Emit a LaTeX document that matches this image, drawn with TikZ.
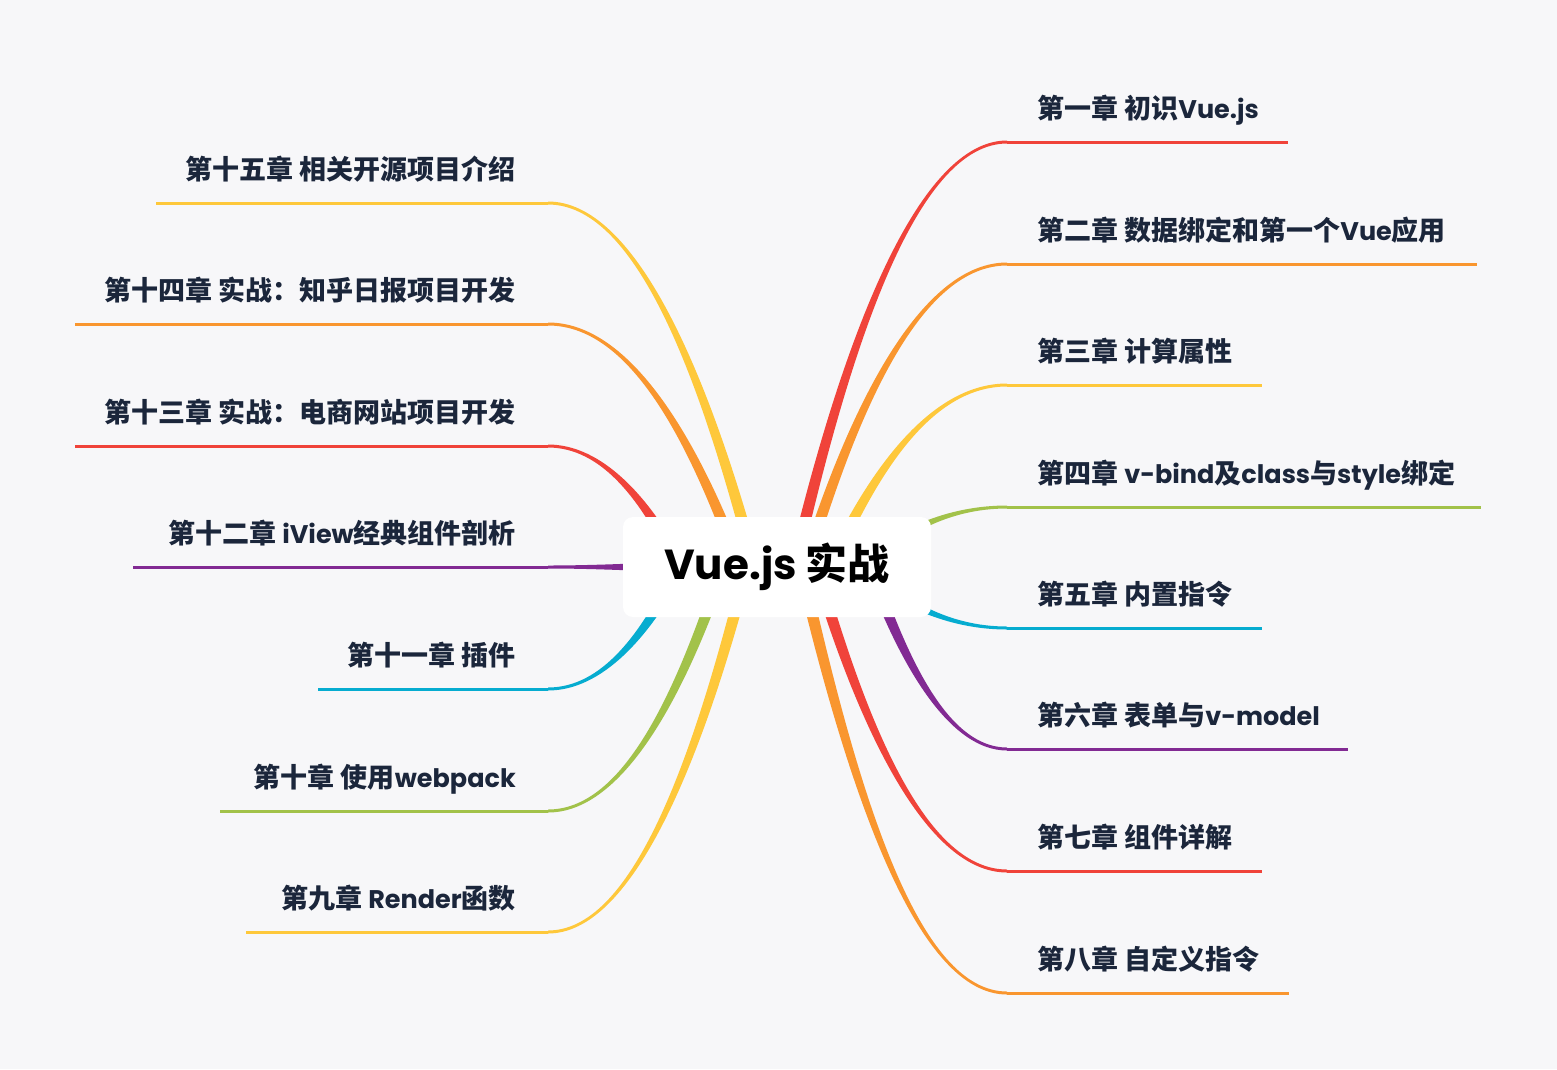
\documentclass[tikz,border=0pt]{standalone}
\usepackage{fontspec}
\setmainfont{Poppins}
\newfontfamily\cjk{Noto Sans CJK SC}[Scale=1.0588]
\newfontfamily\cjkroot{Noto Sans CJK SC}
\usetikzlibrary{calc}
\definecolor{bg}{HTML}{F7F7F9}
\definecolor{cRed}{HTML}{F0433A}
\definecolor{cOrange}{HTML}{F9962F}
\definecolor{cYellow}{HTML}{FEC83B}
\definecolor{cGreen}{HTML}{A2C24A}
\definecolor{cCyan}{HTML}{06ACD0}
\definecolor{cPurple}{HTML}{822A93}
\definecolor{txt}{HTML}{1B263B}
\newcommand\zh[1]{{\cjk #1}}
% color, root, ctrl1, ctrl2, end
\newcommand\branchshape[5]{%
 \fill[#1] ($(#2)!6pt!90:(#3)$) .. controls ($(#3)!4.5pt!-90:(#2)$) and ($(#4)!1.5pt!90:(#5)$) .. ($(#5)!1.5pt!-90:(#4)$)
   -- ($(#5)!1.5pt!90:(#4)$) .. controls ($(#4)!1.5pt!-90:(#5)$) and ($(#3)!4.5pt!90:(#2)$) .. ($(#2)!6pt!-90:(#3)$) -- cycle;}
\tikzset{
  lbl/.style={font=\fontsize{25.5}{25.5}\selectfont\bfseries, text=txt, inner sep=0pt},
  uline/.style={line width=3pt},
  rootbox/.style={fill=white, rounded corners=10pt, minimum width=308pt, minimum height=100pt, inner sep=0pt,
     font=\fontsize{42}{42}\selectfont\bfseries, text=black}
}
\begin{document}
\begin{tikzpicture}[x=1pt,y=-1pt]
\fill[bg] (0,0) rectangle (1557,1069);
\useasboundingbox (0,0) rectangle (1557,1069);
% roots, controls, ends
\coordinate (r1) at (794,567); \coordinate (a1) at (849,330); \coordinate (b1) at (920,142); \coordinate (e1) at (1007,142); \coordinate (u1) at (1288,142);
\coordinate (r2) at (805,567); \coordinate (a2) at (857,397); \coordinate (b2) at (924,264); \coordinate (e2) at (1007,264); \coordinate (u2) at (1477,264);
\coordinate (r3) at (830,567); \coordinate (a3) at (876,465); \coordinate (b3) at (934,385); \coordinate (e3) at (1007,385); \coordinate (u3) at (1262,385);
\coordinate (r4) at (860,567); \coordinate (a4) at (898,533); \coordinate (b4) at (947,507); \coordinate (e4) at (1007,507); \coordinate (u4) at (1481,507);
\coordinate (r5) at (860,567); \coordinate (a5) at (898,601); \coordinate (b5) at (947,628); \coordinate (e5) at (1007,628); \coordinate (u5) at (1262,628);
\coordinate (r6) at (870,567); \coordinate (a6) at (906,669); \coordinate (b6) at (951,749); \coordinate (e6) at (1007,749); \coordinate (u6) at (1348,749);
\coordinate (r7) at (816,567); \coordinate (a7) at (866,737); \coordinate (b7) at (929,871); \coordinate (e7) at (1007,871); \coordinate (u7) at (1262,871);
\coordinate (r8) at (801,567); \coordinate (a8) at (856,806); \coordinate (b8) at (920,993); \coordinate (e8) at (1007,993); \coordinate (u8) at (1289,993);
\coordinate (r9) at (747,567); \coordinate (a9) at (695,771); \coordinate (b9) at (630,932); \coordinate (e9) at (548,932); \coordinate (u9) at (246,932);
\coordinate (r10) at (723,567); \coordinate (a10) at (677,704); \coordinate (b10) at (620,811); \coordinate (e10) at (548,811); \coordinate (u10) at (220,811);
\coordinate (r11) at (680,567); \coordinate (a11) at (646,635); \coordinate (b11) at (602,689); \coordinate (e11) at (548,689); \coordinate (u11) at (318,689);
\coordinate (r12) at (700,567); \coordinate (a12) at (650,567); \coordinate (b12) at (600,567); \coordinate (e12) at (548,567); \coordinate (u12) at (133,567);
\coordinate (r13) at (680,567); \coordinate (a13) at (646,499); \coordinate (b13) at (602,446); \coordinate (e13) at (548,446); \coordinate (u13) at (75,446);
\coordinate (r14) at (740,567); \coordinate (a14) at (690,431); \coordinate (b14) at (627,324); \coordinate (e14) at (548,324); \coordinate (u14) at (75,324);
\coordinate (r15) at (755,567); \coordinate (a15) at (701,363); \coordinate (b15) at (633,203); \coordinate (e15) at (548,203); \coordinate (u15) at (156,203);
% branches
\branchshape{cRed}{r1}{a1}{b1}{e1}
\branchshape{cOrange}{r2}{a2}{b2}{e2}
\branchshape{cYellow}{r3}{a3}{b3}{e3}
\branchshape{cGreen}{r4}{a4}{b4}{e4}
\branchshape{cCyan}{r5}{a5}{b5}{e5}
\branchshape{cPurple}{r6}{a6}{b6}{e6}
\branchshape{cRed}{r7}{a7}{b7}{e7}
\branchshape{cOrange}{r8}{a8}{b8}{e8}
\branchshape{cYellow}{r9}{a9}{b9}{e9}
\branchshape{cGreen}{r10}{a10}{b10}{e10}
\branchshape{cCyan}{r11}{a11}{b11}{e11}
\branchshape{cPurple}{r12}{a12}{b12}{e12}
\branchshape{cRed}{r13}{a13}{b13}{e13}
\branchshape{cOrange}{r14}{a14}{b14}{e14}
\branchshape{cYellow}{r15}{a15}{b15}{e15}
% underlines
\draw[uline,cRed] (e1) -- (u1);
\draw[uline,cOrange] (e2) -- (u2);
\draw[uline,cYellow] (e3) -- (u3);
\draw[uline,cGreen] (e4) -- (u4);
\draw[uline,cCyan] (e5) -- (u5);
\draw[uline,cPurple] (e6) -- (u6);
\draw[uline,cRed] (e7) -- (u7);
\draw[uline,cOrange] (e8) -- (u8);
\draw[uline,cYellow] (e9) -- (u9);
\draw[uline,cGreen] (e10) -- (u10);
\draw[uline,cCyan] (e11) -- (u11);
\draw[uline,cPurple] (e12) -- (u12);
\draw[uline,cRed] (e13) -- (u13);
\draw[uline,cOrange] (e14) -- (u14);
\draw[uline,cYellow] (e15) -- (u15);
% root
\node[rootbox] (root) at (777,567) {Vue.js {\cjkroot 实战}};
% labels
\node[lbl,anchor=base west] (t1) at ($(e1)+(30,-24)$) {\zh{第一章 初识}Vue.js};
\node[lbl,anchor=base west] (t2) at ($(e2)+(30,-24)$) {\zh{第二章 数据绑定和第一个}Vue\zh{应用}};
\node[lbl,anchor=base west] (t3) at ($(e3)+(30,-24)$) {\zh{第三章 计算属性}};
\node[lbl,anchor=base west] (t4) at ($(e4)+(30,-24)$) {\zh{第四章 }v-bind\zh{及}class\zh{与}style\zh{绑定}};
\node[lbl,anchor=base west] (t5) at ($(e5)+(30,-24)$) {\zh{第五章 内置指令}};
\node[lbl,anchor=base west] (t6) at ($(e6)+(30,-24)$) {\zh{第六章 表单与}v-model};
\node[lbl,anchor=base west] (t7) at ($(e7)+(30,-24)$) {\zh{第七章 组件详解}};
\node[lbl,anchor=base west] (t8) at ($(e8)+(30,-24)$) {\zh{第八章 自定义指令}};
\node[lbl,anchor=base east] (t9) at ($(e9)+(-32,-24)$) {\zh{第九章 }Render\zh{函数}};
\node[lbl,anchor=base east] (t10) at ($(e10)+(-32,-24)$) {\zh{第十章 使用}webpack};
\node[lbl,anchor=base east] (t11) at ($(e11)+(-32,-24)$) {\zh{第十一章 插件}};
\node[lbl,anchor=base east] (t12) at ($(e12)+(-32,-24)$) {\zh{第十二章 }iView\zh{经典组件剖析}};
\node[lbl,anchor=base east] (t13) at ($(e13)+(-32,-24)$) {\zh{第十三章 实战：电商网站项目开发}};
\node[lbl,anchor=base east] (t14) at ($(e14)+(-32,-24)$) {\zh{第十四章 实战：知乎日报项目开发}};
\node[lbl,anchor=base east] (t15) at ($(e15)+(-32,-24)$) {\zh{第十五章 相关开源项目介绍}};
\end{tikzpicture}
\end{document}
